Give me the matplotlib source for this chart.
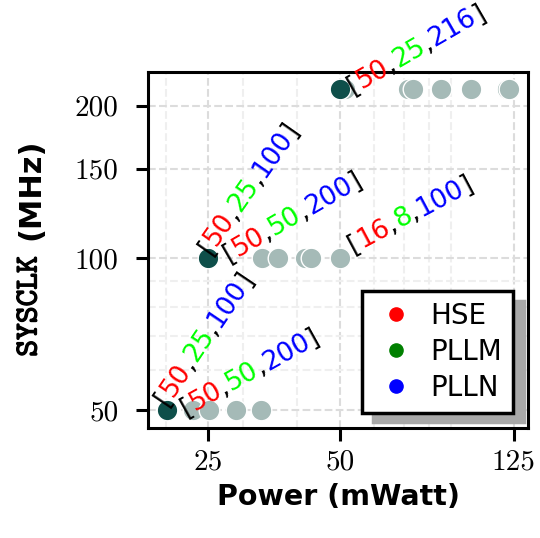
import matplotlib
matplotlib.use('Agg')
import matplotlib.pyplot as plt
import matplotlib.patheffects as pe
from matplotlib.lines import Line2D
from matplotlib.ticker import NullFormatter
from matplotlib.font_manager import FontProperties
import numpy as np

# power (mWatt) vs SYSCLK (MHz)
light_power = [23.1, 25.1, 29.0, 33.0,
               33.2, 36.1, 41.7, 43.0, 50.0,
               51.5, 71.8, 73.6, 85.1, 99.9, 120.5, 122.0]
light_clk = [50, 50, 50, 50,
             100, 100, 100, 100, 100,
             216, 216, 216, 216, 216, 216, 216]
best_power = [20.1, 25.0, 50.0]
best_clk = [50, 100, 216]

# annotations: point, config [HSE, PLLM, PLLN], angle, offset (pt)
ann_power = [20.1, 20.1, 25.0, 25.0, 50.0, 50.0]
ann_clk = [50, 50, 100, 100, 100, 216]
ann_cfg = [[50, 25, 100], [50, 50, 200], [50, 25, 100], [50, 50, 200], [16, 8, 100], [50, 25, 216]]
ann_rot = [56, 29, 55, 30, 28, 30]
ann_off = [(0.0, 2.5), (13.5, -4.5), (1.5, 1.5), (15.0, -3.0), (9.5, 3.5), (9.5, -4.0)]

legend_names = ['HSE', 'PLLM', 'PLLN']
legend_cols = ['red', 'green', 'blue']
part_cols = ['#ff0000', '#00ff00', '#0000ff']

fig = plt.figure(figsize=(5.4, 5.38), dpi=100)
ax = fig.add_axes([0.274, 0.2045, 0.704, 0.6615])

ax.scatter(light_power, light_clk, s=220, color='#a5bab7', edgecolor='white', linewidth=1, zorder=3)
ax.scatter(best_power, best_clk, s=220, color='#0e4f4a', edgecolor='white', linewidth=1, zorder=4)

ax.set_xscale('log')
ax.set_yscale('log')
ax.set_xlim(18.2, 134.9)
ax.set_ylim(46.1, 233)

ax.set_xticks([25, 50, 125])
ax.set_xticklabels(['25', '50', '125'])
ax.set_yticks([50, 100, 150, 200])
ax.set_yticklabels(['50', '100', '150', '200'])
ax.xaxis.set_minor_formatter(NullFormatter())
ax.yaxis.set_minor_formatter(NullFormatter())
for lab in ax.get_xticklabels() + ax.get_yticklabels():
    lab.set_fontfamily('cmr10')
    lab.set_fontsize(21)
ax.tick_params(which='major', length=9, width=2.2, pad=6)
ax.tick_params(axis='y', pad=12)
ax.tick_params(which='minor', length=0)

ax.grid(which='major', linestyle='--', color='#dcdcdc', linewidth=1.5, zorder=0)
ax.grid(which='minor', linestyle='--', color='#efefef', linewidth=1.5, zorder=0)
ax.set_axisbelow(True)
for sp in ax.spines.values():
    sp.set_linewidth(2.2)

ax.set_xlabel('Power (mWatt)', fontsize=20.5, fontweight='bold', labelpad=6)
# y label: bold typewriter SYSCLK + sans (MHz)
fig.text(0.0565, 0.4303, 'SYSCLK', rotation=90, ha='center', va='center',
         fontfamily='cmtt10', fontsize=23,
         path_effects=[pe.withStroke(linewidth=0.9, foreground='black')])
fig.text(0.0565, 0.6487, '(MHz)', rotation=90, ha='center', va='center',
         fontfamily='DejaVu Sans', fontweight='bold', fontsize=22)

# coloured config labels, drawn piece by piece along the rotated baseline
fig.canvas.draw()
renderer = fig.canvas.get_renderer()
fp = FontProperties(family='DejaVu Sans', size=19)

for x, y, cfg, rot, off in zip(ann_power, ann_clk, ann_cfg, ann_rot, ann_off):
    pieces = [('[', 'black')]
    for i, v in enumerate(cfg):
        pieces.append((str(v), part_cols[i]))
        pieces.append((',' if i < 2 else ']', 'black'))
    full = ''.join(p[0] for p in pieces)
    c, s = np.cos(np.radians(rot)), np.sin(np.radians(rot))
    pos = 0
    for txt, col in pieces:
        if pos == 0:
            w = 0.0
        else:
            w = renderer.get_text_width_height_descent(full[:pos], fp, ismath=False)[0] * 72 / fig.dpi
        ax.annotate(txt, xy=(x, y), xycoords='data',
                    xytext=(off[0] + w * c, off[1] + w * s), textcoords='offset points',
                    rotation=rot, rotation_mode='anchor', ha='left', va='baseline',
                    color=col, fontproperties=fp, zorder=5, annotation_clip=False)
        pos += len(txt)

handles = [Line2D([], [], linestyle='', marker='o', markersize=9.5, color=c) for c in legend_cols]
leg = ax.legend(handles, legend_names, loc='lower right', fontsize=20, fancybox=False,
                framealpha=1, edgecolor='black', borderaxespad=0.55,
                handlelength=1.7, handletextpad=0.36, labelspacing=0.28, borderpad=0.4,
                shadow={'ox': 8, 'oy': -7, 'color': '#a8a8a8', 'alpha': 1})
leg.get_frame().set_linewidth(2.5)
leg.set_zorder(6)

fig.savefig('out.png', dpi=100)
